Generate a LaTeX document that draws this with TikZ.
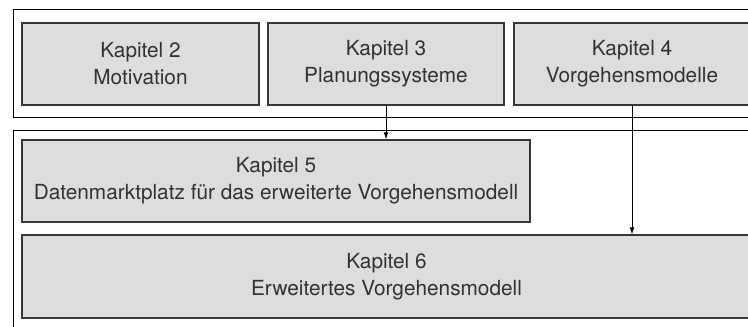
\documentclass[tikz,border=0pt]{standalone}
\usepackage{fontspec}
\setmainfont{TeX Gyre Heros}
\usetikzlibrary{arrows.meta}
\definecolor{boxfill}{RGB}{220,221,223}
\definecolor{boxline}{RGB}{55,55,55}
\definecolor{txt}{RGB}{50,50,50}
\begin{document}
\begin{tikzpicture}[x=1pt,y=-1pt,
  chap/.style={draw=boxline, fill=boxfill, line width=1.4pt, rectangle, inner sep=0pt,
    align=center, text=txt, font=\fontsize{20.8}{27}\selectfont},
  frame/.style={draw=black, line width=1pt},
  arr/.style={-{Latex[length=7pt,width=5pt]}, line width=0.9pt}]
\clip (0,0) rectangle (748,327);
\fill[white] (0,0) rectangle (748,327);
% outer frames
\draw[frame] (13,9) rectangle (760,117);
\draw[frame] (13,130) rectangle (760,340);
% chapter boxes
\node[chap, minimum width=237pt, minimum height=82pt] (k2) at (140.5,64) {Kapitel 2\\Motivation};
\node[chap, minimum width=236pt, minimum height=82pt] (k3) at (386,64) {Kapitel 3\\Planungssysteme};
\node[chap, minimum width=236pt, minimum height=82pt] (k4) at (632,64) {Kapitel 4\\Vorgehensmodelle};
\node[chap, minimum width=508pt, minimum height=82pt] (k5) at (276,181) {Kapitel 5\\Datenmarktplatz für das erweiterte Vorgehensmodell};
\node[chap, minimum width=729pt, minimum height=83pt] (k6) at (386.5,276.5) {Kapitel 6\\Erweitertes Vorgehensmodell};
% connectors
\draw[arr] (k3.south) -- (k3.south |- k5.north);
\draw[arr] (k4.south) -- (k4.south |- k6.north);
\end{tikzpicture}
\end{document}
